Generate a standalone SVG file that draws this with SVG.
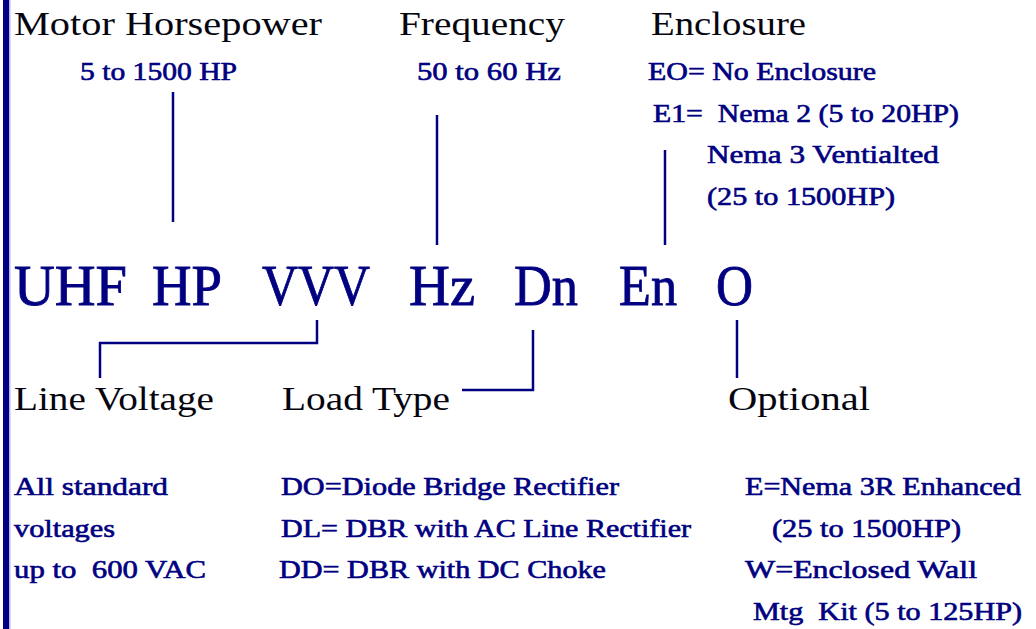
<svg xmlns="http://www.w3.org/2000/svg" width="1036" height="629" viewBox="0 0 1036 629">
<style>
.h{font-family:"Liberation Serif",serif;font-size:34px;fill:#05050f}
.b{font-family:"Liberation Serif",serif;font-size:25px;fill:#000080;stroke:#000080;stroke-width:0.6}
.c{font-family:"Liberation Serif",serif;font-size:56px;fill:#000080;stroke:#000080;stroke-width:0.8}
.ln{stroke:#000080;stroke-width:2.5;fill:none}
</style>
<rect x="0" y="0" width="1036" height="629" fill="#fff"/>
<rect x="3" y="0" width="6" height="629" fill="#000080"/>
<rect x="9" y="0" width="1.5" height="629" fill="#b8b8f0"/>
<g id="code"><text class="c" x="14" y="305" textLength="113" lengthAdjust="spacingAndGlyphs">UHF</text>
<text class="c" x="152" y="305" textLength="70" lengthAdjust="spacingAndGlyphs">HP</text>
<text class="c" x="262" y="305" textLength="108" lengthAdjust="spacingAndGlyphs">VVV</text>
<text class="c" x="409" y="305" textLength="66" lengthAdjust="spacingAndGlyphs">Hz</text>
<text class="c" x="514" y="305" textLength="64" lengthAdjust="spacingAndGlyphs">Dn</text>
<text class="c" x="619" y="305" textLength="58" lengthAdjust="spacingAndGlyphs">En</text>
<text class="c" x="716" y="305" textLength="37" lengthAdjust="spacingAndGlyphs">O</text></g>
<g id="hp"><text class="h" x="14" y="35" textLength="308" lengthAdjust="spacingAndGlyphs">Motor Horsepower</text>
<text class="b" x="80" y="80" textLength="157" lengthAdjust="spacingAndGlyphs">5 to 1500 HP</text></g>
<g id="freq"><text class="h" x="399" y="35" textLength="166" lengthAdjust="spacingAndGlyphs">Frequency</text>
<text class="b" x="417" y="80" textLength="144" lengthAdjust="spacingAndGlyphs">50 to 60 Hz</text></g>
<g id="encl"><text class="h" x="651" y="35" textLength="155" lengthAdjust="spacingAndGlyphs">Enclosure</text>
<text class="b" x="648" y="80" textLength="228" lengthAdjust="spacingAndGlyphs">EO= No Enclosure</text>
<text class="b" x="653" y="122" textLength="306" lengthAdjust="spacingAndGlyphs" xml:space="preserve">E1=  Nema 2 (5 to 20HP)</text>
<text class="b" x="707" y="163" textLength="232" lengthAdjust="spacingAndGlyphs">Nema 3 Ventialted</text>
<text class="b" x="707" y="205" textLength="188" lengthAdjust="spacingAndGlyphs">(25 to 1500HP)</text></g>
<g id="volt"><text class="h" x="14" y="410" textLength="200" lengthAdjust="spacingAndGlyphs">Line Voltage</text>
<text class="b" x="14" y="495" textLength="154" lengthAdjust="spacingAndGlyphs">All standard</text>
<text class="b" x="14" y="537" textLength="101" lengthAdjust="spacingAndGlyphs">voltages</text>
<text class="b" x="14" y="578" textLength="192" lengthAdjust="spacingAndGlyphs" xml:space="preserve">up to  600 VAC</text></g>
<g id="load"><text class="h" x="282" y="410" textLength="168" lengthAdjust="spacingAndGlyphs">Load Type</text>
<text class="b" x="281" y="495" textLength="338" lengthAdjust="spacingAndGlyphs">DO=Diode Bridge Rectifier</text>
<text class="b" x="281" y="537" textLength="410" lengthAdjust="spacingAndGlyphs">DL= DBR with AC Line Rectifier</text>
<text class="b" x="279" y="578" textLength="327" lengthAdjust="spacingAndGlyphs">DD= DBR with DC Choke</text></g>
<g id="opt"><text class="h" x="728" y="410" textLength="142" lengthAdjust="spacingAndGlyphs">Optional</text>
<text class="b" x="745" y="495" textLength="276" lengthAdjust="spacingAndGlyphs">E=Nema 3R Enhanced</text>
<text class="b" x="772" y="537" textLength="189" lengthAdjust="spacingAndGlyphs">(25 to 1500HP)</text>
<text class="b" x="745" y="578" textLength="232" lengthAdjust="spacingAndGlyphs">W=Enclosed Wall</text>
<text class="b" x="753" y="620" textLength="269" lengthAdjust="spacingAndGlyphs" xml:space="preserve">Mtg  Kit (5 to 125HP)</text></g>
<g id="connectors">
<path class="ln" d="M173 92V222"/>
<path class="ln" d="M437 115V245"/>
<path class="ln" d="M665 150V245"/>
<path class="ln" d="M317 320V343H100V378"/>
<path class="ln" d="M533 330V390H462"/>
<path class="ln" d="M737 320V378"/>
</g>
</svg>
